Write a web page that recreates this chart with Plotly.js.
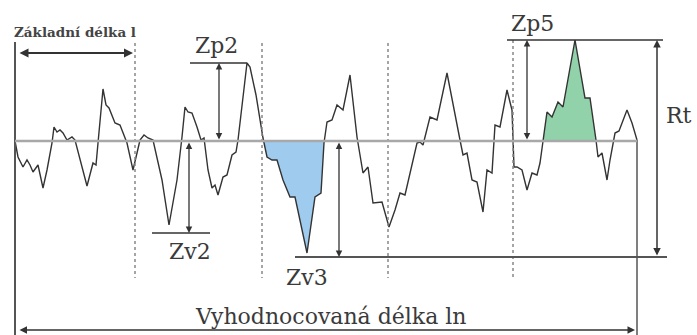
<!DOCTYPE html>
<html>
<head>
<meta charset="utf-8">
<script src="https://cdn.plot.ly/plotly-3.0.1.min.js"></script>
<style>html,body{margin:0;padding:0;background:#fff;}#chart{width:697px;height:335px;}</style>
</head>
<body>
<div id="chart"></div>
<script>
// Profile: position along the evaluation length and height relative to the mean line
const profileX = [15,18,23,27,30,33,38,43,47,52,54,57,60,63,67,72,75,80,87,93,96,98,103,106,109,115,120,127,133,137,140,144,148,153,162,169,177,182,185,188,192,197,201,204,208,212,215,218,223,227,232,236,238,247,250,256,263,267,272,277,283,290,295,307,315,321,324,327,332,337,343,350,357,363,368,373,382,389,395,400,405,417,420,423,430,437,447,460,463,467,472,477,483,487,492,495,500,507,512,514,517,522,527,532,537,540,543,547,552,558,563,575,585,590,596,598,602,607,610,615,619,623,627,632,637];
const profileH = [0,-16,-26,-19,-24,-31,-24,-47,-29,-2,14,9,11,8,1,4,1,-19,-45,-22,-24,-2,52,36,33,18,16,-2,-29,-12,1,6,3,1,-39,-84,-39,4,34,29,28,14,1,3,-29,-47,-44,-54,-36,-34,-14,-11,1,78,74,46,3,-16,-19,-19,-39,-56,-56,-112,-56,-52,-2,19,21,36,31,66,4,-32,-26,-62,-61,-86,-69,-52,-54,-2,-1,-4,24,21,68,1,-14,-12,-39,-41,-71,-29,-32,16,14,51,31,-26,-26,-29,-49,-32,-34,-22,1,29,24,39,34,101,43,43,1,-16,-12,-39,-19,8,10,21,31,18,1];

// Reference levels
const meanLevel = 0;
const zp2Level = 78, zv2Level = -92, zv3Level = -116, zp5Level = 101;
const evalStart = 15, evalEnd = 637;
const samplingBounds = [135, 262, 388, 513];

// Labels
const labelSampling = "Základní délka l";
const labelEval = "Vyhodnocovaná délka ln";
const labelZp2 = "Zp2", labelZv2 = "Zv2", labelZv3 = "Zv3", labelZp5 = "Zp5", labelRt = "Rt";

// Build a clipped region (above or below the mean line) between x0 and x1
function clipRegion(xs, hs, x0, x1, sign) {
  const px = [], py = [];
  for (let i = 0; i < xs.length - 1; i++) {
    const xa = xs[i], xb = xs[i+1], ha = hs[i]*sign, hb = hs[i+1]*sign;
    if (xb < x0 || xa > x1) continue;
    if (ha >= 0 && px.length === 0) { px.push(xa); py.push(hs[i]); }
    if ((ha >= 0) !== (hb >= 0)) {
      const t = ha / (ha - hb);
      const xc = xa + t * (xb - xa);
      px.push(xc); py.push(0);
    }
    if (hb >= 0) { px.push(xb); py.push(hs[i+1]); }
  }
  return {x: px, y: py};
}

const blue = clipRegion(profileX, profileH, 258, 326, -1);
const green = clipRegion(profileX, profileH, 538, 600, 1);

const serif = "DejaVu Serif";
const ink = "#333333";

const traces = [
  {x: blue.x, y: blue.y, mode: 'lines', fill: 'toself', fillcolor: '#9fcbee', line: {width: 0}, hoverinfo: 'skip'},
  {x: green.x, y: green.y, mode: 'lines', fill: 'toself', fillcolor: '#92d2aa', line: {width: 0}, hoverinfo: 'skip'},
  {x: profileX, y: profileH, mode: 'lines', line: {color: '#333333', width: 1.4}, hoverinfo: 'skip'}
];

const shapes = [];
// sampling length boundaries (dotted)
samplingBounds.forEach((b, i) => {
  shapes.push({type: 'line', x0: b, x1: b, y0: (i === 3 ? zp5Level : 98), y1: -137, line: {color: '#888', width: 1.5, dash: 'dot'}});
});
// evaluation length boundaries
shapes.push({type: 'line', x0: evalStart, x1: evalStart, y0: 99, y1: -194, line: {color: '#555', width: 2}});
shapes.push({type: 'line', x0: evalEnd, x1: evalEnd, y0: 1, y1: -194, line: {color: '#555', width: 1.5}});
// mean line
shapes.push({type: 'line', x0: evalStart, x1: evalEnd, y0: meanLevel, y1: meanLevel, line: {color: '#a8a8a8', width: 2.5}, layer: 'above'});
// level lines
shapes.push({type: 'line', x0: 190, x1: 247, y0: zp2Level, y1: zp2Level, line: {color: ink, width: 1.5}});
shapes.push({type: 'line', x0: 152, x1: 210, y0: zv2Level, y1: zv2Level, line: {color: ink, width: 1.5}});
shapes.push({type: 'line', x0: 295, x1: 667, y0: zv3Level, y1: zv3Level, line: {color: '#555', width: 2}});
shapes.push({type: 'line', x0: 507, x1: 663, y0: zp5Level, y1: zp5Level, line: {color: ink, width: 1.5}});

function dblArrow(x0, y0, x1, y1, w) {
  return {x: x1, y: y1, ax: x0, ay: y0, xref: 'x', yref: 'y', axref: 'x', ayref: 'y', text: '', showarrow: true,
    arrowhead: 2, startarrowhead: 2, arrowside: 'end+start', arrowsize: 1, startarrowsize: 1, arrowwidth: w || 1.3, arrowcolor: ink, standoff: 0, startstandoff: 0};
}
function label(x, y, t, size, extra) {
  return Object.assign({x: x, y: y, xref: 'x', yref: 'y', text: t, showarrow: false, font: {family: serif, size: size, color: '#3a3a3a'}}, extra || {});
}

const annotations = [
  dblArrow(219, meanLevel, 219, zp2Level),
  dblArrow(189, meanLevel, 189, zv2Level),
  dblArrow(339, meanLevel, 339, zv3Level),
  dblArrow(527, meanLevel, 527, zp5Level),
  dblArrow(657, zv3Level, 657, zp5Level, 1.5),
  dblArrow(18, 88, 133, 88, 1.8),
  dblArrow(18, -189, 635, -189, 1.5),
  label(75, 109, labelSampling, 13.5, {font: {family: serif, size: 13.5, color: '#444', weight: 'bold'}}),
  label(216, 96, labelZp2, 22),
  label(190, -110, labelZv2, 22),
  label(307, -136, labelZv3, 22),
  label(532, 118, labelZp5, 22),
  label(679, 26, labelRt, 22),
  label(331, -175, labelEval, 22)
];

const layout = {
  width: 697, height: 335, margin: {l: 0, r: 0, t: 0, b: 0},
  paper_bgcolor: '#fff', plot_bgcolor: '#fff', showlegend: false,
  xaxis: {range: [0, 697], visible: false, fixedrange: true},
  yaxis: {range: [-194, 141], visible: false, fixedrange: true},
  shapes: shapes, annotations: annotations
};

Plotly.newPlot('chart', traces, layout, {staticPlot: true, displayModeBar: false});
</script>
</body>
</html>
